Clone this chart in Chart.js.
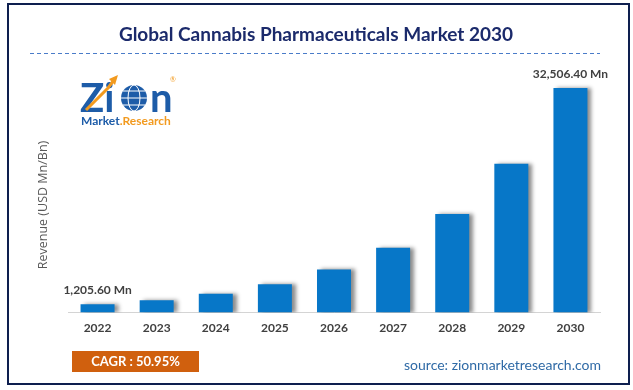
<!DOCTYPE html>
<html>
<head>
<meta charset="utf-8">
<script src="https://cdn.jsdelivr.net/npm/chart.js@4.4.1/dist/chart.umd.min.js"></script>
<style>
  html, body { margin: 0; padding: 0; background: #fff; }
  #wrap { width: 633px; height: 390px; position: relative; }
</style>
</head>
<body>
<div id="wrap"><canvas id="marketChart"></canvas></div>
<script>
// chart data
var years = ['2022', '2023', '2024', '2025', '2026', '2027', '2028', '2029', '2030'];
var revenue = [1205.6, 1800, 2720, 4100, 6250, 9400, 14250, 21550, 32506.4];
var valueLabels = ['1,205.60 Mn', '', '', '', '', '', '', '', '32,506.40 Mn'];

var titleText = 'Global Cannabis Pharmaceuticals Market 2030';
var yTitle = 'Revenue (USD Mn/Bn)';
var cagrText = 'CAGR : 50.95%';
var sourceText = 'source: zionmarketresearch.com';

var FONT = 'Lato, "Open Sans", sans-serif';

// frame, title, logo, footer
var decorPlugin = {
    id: 'decor',
    beforeDraw: function (chart) {
        var ctx = chart.ctx;
        ctx.save();
        ctx.fillStyle = '#ffffff';
        ctx.fillRect(0, 0, chart.width, chart.height);
        ctx.restore();
    },
    afterDraw: function (chart) {
        var ctx = chart.ctx;
        ctx.save();

        // outer border
        ctx.strokeStyle = '#0e1f4f';
        ctx.lineWidth = 2;
        ctx.strokeRect(8, 4, 621, 380);

        // title
        ctx.fillStyle = '#1b2a6b';
        ctx.font = 'bold 19px ' + FONT;
        ctx.textAlign = 'center';
        ctx.textBaseline = 'middle';
        ctx.fillText(titleText, 316, 35);

        // dashed rule under title
        ctx.strokeStyle = '#4a7cc9';
        ctx.lineWidth = 1;
        ctx.setLineDash([4, 3]);
        ctx.beginPath();
        ctx.moveTo(30, 53.5);
        ctx.lineTo(600, 53.5);
        ctx.stroke();
        ctx.setLineDash([]);

        // logo
        ctx.textAlign = 'left';
        ctx.textBaseline = 'alphabetic';
        ctx.fillStyle = '#1d5ca8';
        ctx.font = 'bold 40px ' + FONT;
        ctx.fillText('Zi', 80, 112);
        ctx.fillText('n', 150, 112);
        // globe as the "o"
        ctx.beginPath();
        ctx.arc(134, 98, 13, 0, Math.PI * 2);
        ctx.fill();
        ctx.strokeStyle = '#ffffff';
        ctx.lineWidth = 1;
        ctx.beginPath();
        ctx.ellipse(134, 98, 6, 13, 0, 0, Math.PI * 2);
        ctx.moveTo(121, 98); ctx.lineTo(147, 98);
        ctx.moveTo(123, 91); ctx.lineTo(145, 91);
        ctx.moveTo(123, 105); ctx.lineTo(145, 105);
        ctx.stroke();
        // orange arrow
        ctx.strokeStyle = '#f29a1f';
        ctx.lineWidth = 3;
        ctx.beginPath();
        ctx.moveTo(86, 110);
        ctx.lineTo(108, 88);
        ctx.lineTo(114, 80);
        ctx.stroke();
        ctx.fillStyle = '#f29a1f';
        ctx.beginPath();
        ctx.moveTo(118, 75); ctx.lineTo(109, 79); ctx.lineTo(115, 85);
        ctx.closePath();
        ctx.fill();
        ctx.font = 'bold 12px ' + FONT;
        ctx.fillStyle = '#1d5ca8';
        ctx.fillText('Market', 81, 125);
        var mw = ctx.measureText('Market').width;
        ctx.fillStyle = '#f29a1f';
        ctx.fillText('.Research', 81 + mw, 125);
        ctx.font = '7px ' + FONT;
        ctx.fillText('\u00AE', 170, 82);

        // y axis title
        ctx.save();
        ctx.translate(43, 205);
        ctx.rotate(-Math.PI / 2);
        ctx.fillStyle = '#595959';
        ctx.font = '12.5px "Open Sans", ' + FONT;
        ctx.textAlign = 'center';
        ctx.textBaseline = 'middle';
        ctx.fillText(yTitle, 0, 0);
        ctx.restore();

        // CAGR box
        ctx.fillStyle = '#d0600e';
        ctx.fillRect(72, 351, 127, 21);
        ctx.fillStyle = '#ffffff';
        ctx.font = 'bold 13px ' + FONT;
        ctx.textAlign = 'center';
        ctx.textBaseline = 'middle';
        ctx.fillText(cagrText, 135.5, 362);

        // source
        ctx.fillStyle = '#2f6aa6';
        ctx.font = '14px ' + FONT;
        ctx.textAlign = 'right';
        ctx.fillText(sourceText, 601, 365);

        ctx.restore();
    }
};

// bar shadow and value labels
var barPlugin = {
    id: 'barExtras',
    beforeDatasetDraw: function (chart) {
        var ctx = chart.ctx;
        ctx.save();
        ctx.shadowColor = 'rgba(0, 0, 0, 0.45)';
        ctx.shadowOffsetX = 4;
        ctx.shadowOffsetY = 0;
        ctx.shadowBlur = 4;
    },
    afterDatasetDraw: function (chart) {
        var ctx = chart.ctx;
        ctx.restore();
        var meta = chart.getDatasetMeta(0);
        ctx.save();
        ctx.fillStyle = '#404040';
        ctx.font = 'bold 12px ' + FONT;
        ctx.textAlign = 'center';
        ctx.textBaseline = 'bottom';
        for (var i = 0; i < meta.data.length; i++) {
            if (!valueLabels[i]) continue;
            var bar = meta.data[i];
            ctx.fillText(valueLabels[i], bar.x, bar.y - 8);
        }
        ctx.restore();
    }
};

new Chart(document.getElementById('marketChart'), {
    type: 'bar',
    data: {
        labels: years,
        datasets: [{
            data: revenue,
            backgroundColor: '#0777c8',
            borderWidth: 0,
            barPercentage: 0.575,
            categoryPercentage: 1
        }]
    },
    options: {
        responsive: true,
        maintainAspectRatio: false,
        animation: false,
        events: [],
        layout: {
            padding: { left: 68, right: 33, top: 70, bottom: 55 }
        },
        plugins: {
            legend: { display: false },
            tooltip: { enabled: false }
        },
        scales: {
            x: {
                grid: { display: false },
                border: { color: '#d4d4d4', width: 1 },
                ticks: {
                    color: '#404040',
                    font: { family: FONT, size: 12, weight: 'bold' },
                    padding: 0
                }
            },
            y: {
                display: false,
                min: 0,
                max: 35100
            }
        }
    },
    plugins: [decorPlugin, barPlugin]
});
</script>
</body>
</html>
